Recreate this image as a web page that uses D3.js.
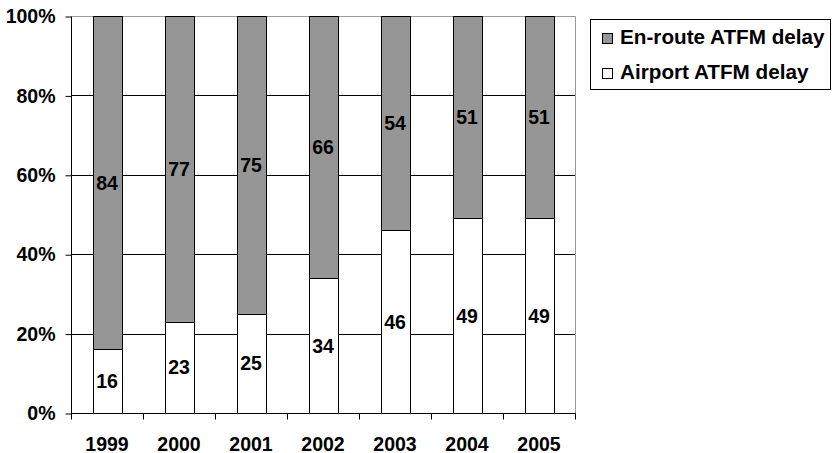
<!DOCTYPE html>
<html>
<head>
<meta charset="utf-8">
<script src="https://cdn.jsdelivr.net/npm/d3@7/dist/d3.min.js"></script>
<style>
  html, body { margin: 0; padding: 0; background: #fff; }
  svg { display: block; }
  text { font-family: "Liberation Sans", Arial, sans-serif; font-weight: bold; fill: #000; }
</style>
</head>
<body>
<svg id="chart" width="834" height="453"></svg>
<script>
const years = ["1999", "2000", "2001", "2002", "2003", "2004", "2005"];
const airport = [16, 23, 25, 34, 46, 49, 49];
const enroute = [84, 77, 75, 66, 54, 51, 51];
const seriesNames = ["En-route ATFM delay", "Airport ATFM delay"];
const seriesColors = ["#969696", "#ffffff"];
const yTicks = [0, 20, 40, 60, 80, 100];

const FS = "19.5px";
const svg = d3.select("#chart");
const pLeft = 71, pRight = 575, pTop = 16, pBottom = 413;

const x = d3.scaleBand().domain(years).range([pLeft, pRight]).padding(0);
const y = d3.scaleLinear().domain([0, 100]).range([pBottom, pTop]);

// gridlines
svg.append("g").selectAll("line").data(yTicks.filter(d => d > 0 && d < 100)).join("line")
  .attr("x1", pLeft).attr("x2", pRight)
  .attr("y1", d => Math.round(y(d)) + 0.5).attr("y2", d => Math.round(y(d)) + 0.5)
  .attr("stroke", "#000").attr("stroke-width", 1);

// plot border (gray top & right)
svg.append("path")
  .attr("d", `M${pLeft + 0.5},${pTop + 0.5}H${pRight + 0.5}V${pBottom + 0.5}`)
  .attr("fill", "none").attr("stroke", "#999").attr("stroke-width", 1);

// bars
const bw = x.bandwidth() * 0.4;
const data = years.map((yr, i) => ({ yr, a: airport[i], e: enroute[i] }));
const g = svg.append("g");
data.forEach(d => {
  const x0 = Math.round(x(d.yr) + (x.bandwidth() - bw) / 2) + 0.5;
  const w = Math.round(bw);
  const yA = Math.round(y(d.a)) + 0.5;
  const yT = Math.round(y(d.a + d.e)) + 0.5;
  const yB = Math.round(y(0)) + 0.5;
  g.append("rect").attr("x", x0).attr("y", yT).attr("width", w).attr("height", yA - yT)
    .attr("fill", seriesColors[0]).attr("stroke", "#000").attr("stroke-width", 1);
  g.append("rect").attr("x", x0).attr("y", yA).attr("width", w).attr("height", yB - yA)
    .attr("fill", seriesColors[1]).attr("stroke", "#000").attr("stroke-width", 1);
  const cx = x(d.yr) + x.bandwidth() / 2;
  g.append("text").attr("x", cx).attr("y", y(d.a / 2)).attr("dy", "0.36em")
    .attr("text-anchor", "middle").style("font-size", FS).text(d.a);
  g.append("text").attr("x", cx).attr("y", y(d.a + d.e / 2)).attr("dy", "0.36em")
    .attr("text-anchor", "middle").style("font-size", FS).text(d.e);
});

// y axis
const yAxis = d3.axisLeft(y).tickValues(yTicks).tickFormat(d => d + "%").tickSize(6).tickPadding(10);
const ya = svg.append("g").attr("transform", `translate(${pLeft + 0.5},0.5)`).call(yAxis);
ya.select(".domain").attr("stroke", "#000").attr("d", `M0,${pTop}V${pBottom}`);
ya.selectAll(".tick line").attr("stroke", "#000");
ya.selectAll(".tick text").style("font-size", FS).style("font-family", "'Liberation Sans', Arial, sans-serif").style("font-weight", "bold").attr("fill", "#000");

// x axis
const xa = svg.append("g").attr("transform", `translate(0,${pBottom + 0.5})`);
xa.append("line").attr("x1", pLeft).attr("x2", pRight + 1).attr("y1", 0).attr("y2", 0).attr("stroke", "#000");
const bounds = years.map(yr => x(yr)).concat([pRight]);
xa.selectAll("line.tk").data(bounds).join("line").attr("class", "tk")
  .attr("x1", d => Math.round(d) + 0.5).attr("x2", d => Math.round(d) + 0.5)
  .attr("y1", 0).attr("y2", 6).attr("stroke", "#000");
xa.selectAll("text").data(years).join("text")
  .attr("x", d => x(d) + x.bandwidth() / 2).attr("y", 37)
  .attr("text-anchor", "middle").style("font-size", FS).text(d => d);

// legend
const lg = svg.append("g");
lg.append("rect").attr("x", 590.5).attr("y", 19.5).attr("width", 240).attr("height", 70)
  .attr("fill", "#fff").attr("stroke", "#000").attr("stroke-width", 1);
seriesNames.forEach((n, i) => {
  const cy = 37.5 + i * 35;
  lg.append("rect").attr("x", 602.5).attr("y", Math.round(cy - 5) + 0.5).attr("width", 10).attr("height", 10)
    .attr("fill", seriesColors[i]).attr("stroke", "#000").attr("stroke-width", 1);
  lg.append("text").attr("x", 620).attr("y", cy + 6.5).style("font-size", "20.7px").text(n);
});
</script>
</body>
</html>
